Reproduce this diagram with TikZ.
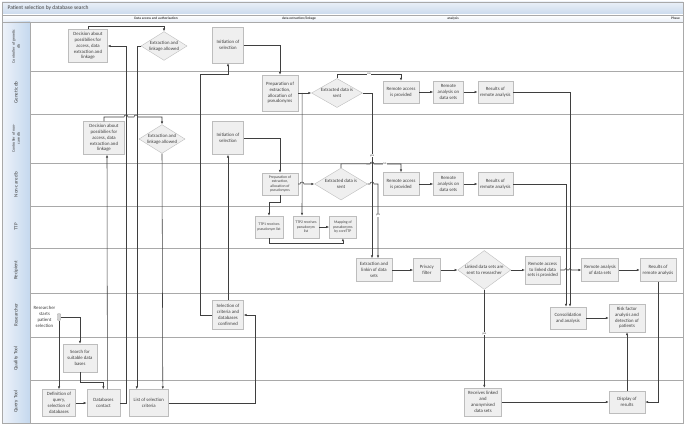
\documentclass[tikz,border=0pt]{standalone}
\usepackage{fontspec}
\setmainfont{Carlito}
\usepackage{tikz}
\usetikzlibrary{shapes.geometric, arrows.meta, positioning, calc}

\definecolor{laneblue}{HTML}{C5D8EE}
\definecolor{lanelight}{HTML}{EEF3FA}
\definecolor{titletop}{HTML}{EAF0F8}
\definecolor{titlebot}{HTML}{C9D9EC}
\definecolor{laneline}{HTML}{A9A9A9}
\definecolor{boxfill}{HTML}{EFEFEF}
\definecolor{boxline}{HTML}{BDBDBD}
\definecolor{wire}{HTML}{3F3F3F}
\definecolor{textgray}{HTML}{404040}

\begin{document}
\begin{tikzpicture}[
  x=1pt, y=-1pt,
  font=\fontsize{4.8}{5.8}\selectfont,
  node distance=14pt,
  task/.style={rectangle, draw=boxline, fill=boxfill, text=textgray, align=center, inner sep=1pt, minimum width=36pt, minimum height=22pt},
  smalltask/.style={task, font=\fontsize{3.8}{4.6}\selectfont},
  decision/.style={diamond, draw=boxline, fill=boxfill, text=textgray, align=center, inner sep=0pt},
  lanelabel/.style={rotate=90, align=center, text=textgray},
  phase/.style={font=\fontsize{3.5}{4}\selectfont\bfseries, text=textgray, inner sep=0pt},
  arrow/.style={draw=wire, line width=0.55pt, -{Latex[length=3pt,width=2.4pt]}},
  answer/.style={fill=white, inner sep=0.4pt, font=\fontsize{3}{3.5}\selectfont, text=textgray}
]
\useasboundingbox (0,0) rectangle (685,425);

% frame, title and phases
\shade[top color=titletop, bottom color=titlebot] (2,2) rectangle (683,15);
\shade[top color=white, bottom color=titletop] (2,15) rectangle (683,22);
\node[anchor=west, font=\fontsize{5.5}{6.5}\selectfont, text=textgray] (title) at (4,8.5) {Patient selection by database search};
\node[phase] (phaseaccess) at (156,18.5) {Data access and authorisation};
\node[phase] (phaselink) at (299,18.5) {data extraction/linkage};
\node[phase] (phaseanalysis) at (453,18.5) {analysis};
\node[phase, anchor=east] (phasehead) at (680,18.5) {Phase};

% lanes
\foreach \ya/\yb/\fs/\lab in {22/71/4/{Controller of genetic\\db}, 71/114/5/{Genetic db},
  114/163/4/{Controller of non-\\care db}, 163/206/5/{Non-care db}, 206/248/5/TTP,
  248/293/5/Recipient, 293/337/5/Researcher, 337/380/5/Quality Tool, 380/423/5/Query Tool} {
  \shade[left color=lanelight, right color=laneblue] (2,\ya) rectangle (30,\yb);
  \node[lanelabel, font=\fontsize{\fs}{5}\selectfont] (lane\ya) at (16,{(\ya+\yb)/2}) {\lab};
  \draw[laneline, line width=0.8pt] (2,\yb) -- (683,\yb);
}
\draw[laneline, line width=0.8pt] (2,15) -- (683,15) (2,22) -- (683,22) (30,22) -- (30,423);
\draw[laneline, line width=0.8pt] (2,2) rectangle (683,423);

% Controller of genetic db
\node[task, minimum width=39pt, minimum height=33pt] (decgen) at (88,46) {Decision about\\possibilies for\\access, data\\extraction and\\linkage};
\node[decision, aspect=1.6, minimum width=45pt, minimum height=28pt] (allowgen) at (164,46) {Extraction and\\linkage allowed};
\node[task, minimum width=31pt, minimum height=36pt] (initgen) at (228,45) {Initiation of\\selection};

% Genetic db
\node[task, minimum height=36pt] (prepgen) at (280,93) {Preparation of\\extraction,\\allocation of\\pseudonyms};
\node[decision, aspect=1.75, minimum width=51pt, minimum height=29pt] (sentgen) at (337,93) {Extracted data is\\sent};
\node[task] (accessgen) at (401,92) {Remote access\\is provided};
\node[task, minimum width=30pt, right=of accessgen] (analysegen) {Remote\\analysis on\\data sets};
\node[task, minimum width=35pt, right=of analysegen] (resultgen) {Results of\\remote analysis};

% Controller of non-care db
\node[task, minimum width=41pt, minimum height=33pt] (decnon) at (104,138) {Decision about\\possibilies for\\access, data\\extraction and\\linkage};
\node[decision, aspect=1.6, minimum width=44pt, minimum height=27pt] (allownon) at (162,139) {Extraction and\\linkage allowed};
\node[task, minimum width=31pt, minimum height=33pt] (initnon) at (228,138) {Initiation of\\selection};

% Non-care db
\node[smalltask] (prepnon) at (280,184) {Preparation of\\extraction,\\allocation of\\pseudonyms};
\node[decision, aspect=1.65, minimum width=53pt, minimum height=32pt] (sentnon) at (341,184) {Extracted data is\\sent};
\node[task, minimum height=23pt] (accessnon) at (401,184) {Remote access\\is provided};
\node[task, minimum width=30pt, minimum height=23pt, right=of accessnon] (analysenon) {Remote\\analysis on\\data sets};
\node[task, minimum width=35pt, minimum height=23pt, right=of analysenon] (resultnon) {Results of\\remote analysis};

% TTP
\node[smalltask, minimum width=28pt] (ttpone) at (269,227) {TTP1 receives\\pseudonym list};
\node[smalltask, minimum width=26pt] (ttptwo) at (306,227) {TTP2 receives\\pseudonym\\list};
\node[smalltask, minimum width=27pt, right=10pt of ttptwo] (mapping) {Mapping of\\pseudonyms\\by coreTTP};

% Recipient
\node[task, minimum height=23pt] (extract) at (374,270) {Extraction and\\linkin of data\\sets};
\node[task, minimum width=27pt, minimum height=23pt, right=21pt of extract] (privacy) {Privacy\\filter};
\node[decision, aspect=1.36, minimum width=53pt, minimum height=39pt, right=17pt of privacy] (linked) {Linked data sets are\\sent to researcher};
\node[task, minimum width=35pt, minimum height=28pt, right=of linked] (accesslink) {Remote access\\to linked data\\sets is provided};
\node[task, minimum width=37pt, minimum height=23pt, right=21pt of accesslink] (analyselink) {Remote analysis\\of data sets};
\node[task, minimum height=23pt, right=21pt of analyselink] (resultlink) {Results of\\remote analysis};

% Researcher
\node[rectangle, rounded corners=1pt, fill=black!18, draw=black!30, minimum width=3.5pt, minimum height=7pt, inner sep=0pt] (actor) at (59,317) {};
\node[left=1.5pt of actor, align=center, text=textgray, inner sep=0pt] (starttext) {Researcher\\starts\\patient\\selection};
\node[task, minimum width=31pt, minimum height=29pt] (confirm) at (228,315) {Selection of\\criteria and\\databases\\confirmed};
\node[task, minimum height=22pt] (consol) at (568,318) {Consolidation\\and analysis};
\node[task, minimum height=28pt] (risk) at (627,318) {Risk factor\\analysis and\\detection of\\patients};

% Quality Tool
\node[task, minimum width=34pt, minimum height=28pt] (search) at (80,358) {Search for\\suitable data\\bases};

% Query Tool
\node[task, minimum width=33pt, minimum height=27pt] (define) at (59,403) {Definition of\\query,\\selection of\\databases};
\node[task, minimum width=33pt, minimum height=27pt, right=11pt of define] (contact) {Databases\\contact};
\node[task, minimum width=39pt, minimum height=27pt, right=9pt of contact] (criteria) {List of selection\\criteria};
\node[task, minimum width=37pt, minimum height=28pt] (receive) at (483,402) {Receives linked\\and\\anonymised\\data sets};
\node[task, minimum height=22pt] (display) at (627,402) {Display of\\results};

% connectors: data access
\draw[arrow] (actor.south) -- (define.north);
\draw[arrow] (actor.east) -| (search.north);
\draw[arrow] (search.south) |- ($(contact.north)+(0,-7)$) -- (contact.north);
\draw[arrow] (define) -- (contact);
\draw[arrow] (contact.east) -- ++(6.5,0) |- (decgen.east);
\draw[arrow] ($(contact.north)+(4,0)$) -- ($(decnon.south)+(3,0)$);
\draw[arrow] (decgen.north) -- ++(0,-3.5) -| (allowgen.north);
\draw[arrow] (decnon.north) |- (124,117) arc[start angle=180, end angle=0, radius=2pt]
  -- (134,117) arc[start angle=180, end angle=0, radius=2pt] -| (allownon.north);
\draw[arrow] (allowgen.west) -| ($(criteria.north)+(-12,0)$);
\draw[arrow] (allownon.south) -- ($(criteria.north)+(14,0)$);
\draw[arrow] (criteria.east) -- ++(86.5,0) |- (confirm.east);
\draw[arrow] (confirm.west) -- ++(-12.5,0) |- ($(initgen.south)+(0,11)$) -- (initgen.south);
\draw[arrow] (confirm.north) -- (initnon.south);

% connectors: extraction and linkage
\draw[arrow] (initgen.east) -| (prepgen.north);
\draw[arrow] (initnon.east) -| (prepnon.north);
\draw[arrow] (prepgen.east) -- (sentgen.west);
\draw[arrow] ($(prepgen.east)+(4,0)$) -- ($(ttptwo.north)+(-4,0)$);
\draw[arrow] (prepnon.east) -- (300,184) arc[start angle=180, end angle=0, radius=2pt] -- (sentnon.west);
\draw[arrow] (prepnon.south) -- ++(0,7) -| (ttpone.north);
\draw[arrow] (ttptwo) -- (mapping);
\draw[arrow] (ttpone.south) -- ++(0,5) -| (mapping.south);
\draw[arrow] (sentgen.north) -- ++(0,-4.5) -| node[answer, pos=0.25] {no} (accessgen.north);
\draw[arrow] (sentgen.east) -| node[answer, pos=0.69] {yes} ($(extract.north)+(-2,0)$);
\draw[arrow] (sentnon.north) -- ++(0,-4) -- (370,164) arc[start angle=180, end angle=0, radius=2pt]
  -| node[answer, pos=0.2] {no} (accessnon.north);
\draw[arrow] (sentnon.east) -- (370,184) arc[start angle=180, end angle=0, radius=2pt]
  -| node[answer, pos=0.71] {yes} ($(extract.north)+(4,0)$);

% connectors: analysis
\draw[arrow] (accessgen) -- (analysegen);
\draw[arrow] (analysegen) -- (resultgen);
\draw[arrow] (accessnon) -- (analysenon);
\draw[arrow] (analysenon) -- (resultnon);
\draw[arrow] (resultgen.east) -| ($(consol.north)+(2,0)$);
\draw[arrow] (resultnon.east) -| ($(consol.north)+(-2,0)$);
\draw[arrow] (extract) -- (privacy);
\draw[arrow] (privacy) -- (linked);
\draw[arrow] (linked) -- (accesslink);
\draw[arrow] (accesslink.east) -- (564.5,270) arc[start angle=180, end angle=0, radius=1.5pt]
  -- (568.5,270) arc[start angle=180, end angle=0, radius=1.5pt] -- (analyselink.west);
\draw[arrow] (analyselink) -- (resultlink);
\draw[arrow] (resultlink.south) |- (display.east);
\draw[arrow] (linked.south) -- node[answer, pos=0.45] {yes} (linked.south |- receive.north);
\draw[arrow] (receive) -- (display);
\draw[arrow] (display) -- (risk);
\draw[arrow] (consol) -- (risk);
\end{tikzpicture}
\end{document}
